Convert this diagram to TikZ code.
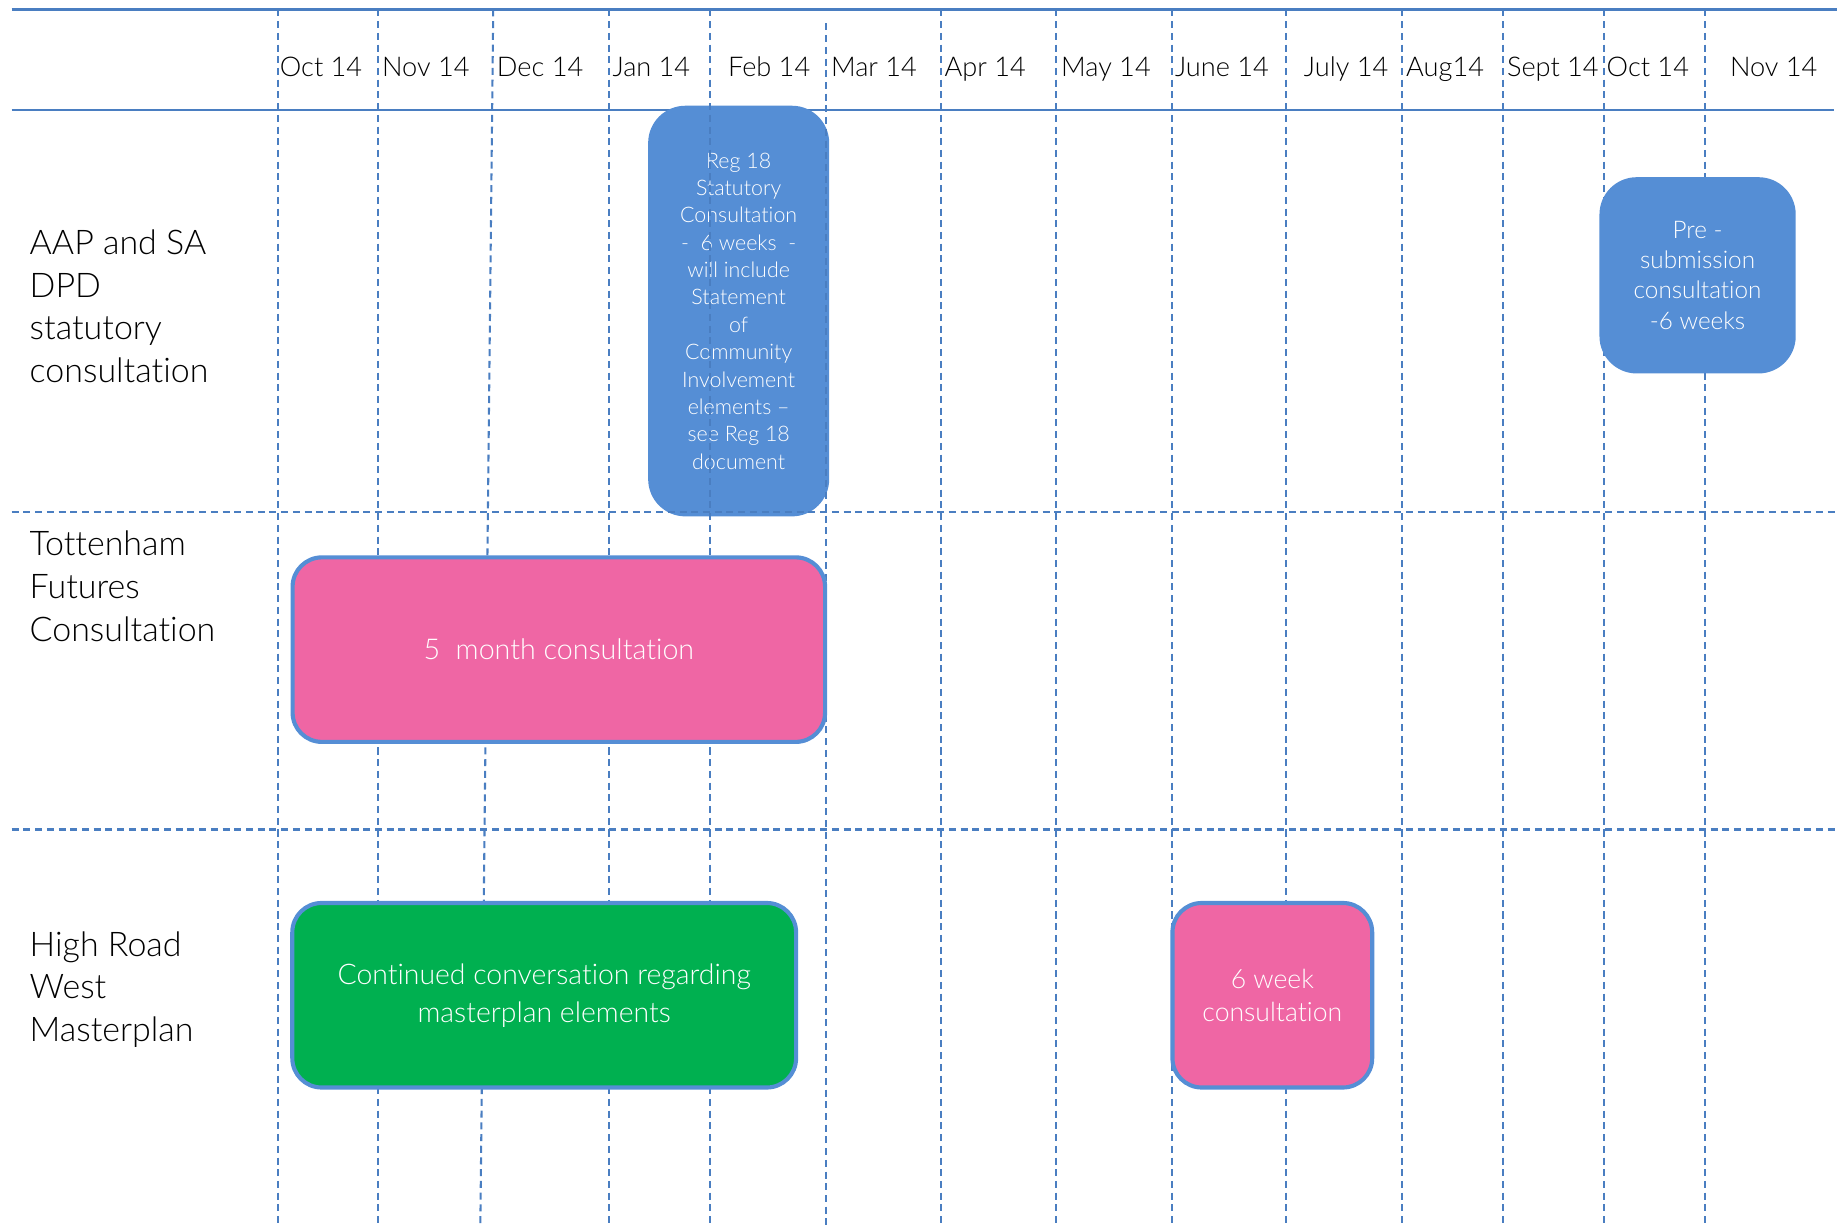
\documentclass[tikz,border=0pt]{standalone}
\usepackage{fontspec}
\IfFontExistsTF{Lato Light}{\setmainfont{Lato Light}[Ligatures=NoCommon]}{\setmainfont{Lato}[Ligatures=NoCommon]}
\definecolor{gridblue}{RGB}{74,126,193}
\definecolor{boxblue}{RGB}{85,142,213}
\definecolor{boxpink}{RGB}{239,102,164}
\definecolor{boxgreen}{RGB}{0,176,80}
\begin{document}
\begin{tikzpicture}[x=0.2mm,y=-0.2mm,
    monthline/.style={gridblue, line width=1pt, dash pattern=on 1.2mm off 0.8mm},
    headrule/.style={gridblue, line width=1.2pt},
    phase/.style={rounded corners=5mm, draw=boxblue, line width=2pt, text=white, align=center, inner sep=0pt},
    month/.style={anchor=base, font=\fontsize{13.2}{16}\selectfont},
    rowlabel/.style={anchor=west, align=left, inner sep=0pt, font=\fontsize{16.5}{20.7}\selectfont}]
    \useasboundingbox (0,0) rectangle (1568,1046);
    % header rules
    \draw[headrule] (10,8) -- (1568,8);
    \draw[headrule] (10,94) -- (1565,94);
    % reg 18 box sits under the grid
    \node[phase, fill=boxblue, rounded corners=6mm, minimum width=30.2mm, minimum height=69.4mm,
          font=\fontsize{10.4}{13.3}\selectfont] (reg) at (630.5,265.5)
          {Reg 18\\Statutory\\Consultation\\-~ 6 weeks ~-\\will include\\Statement\\of\\Community\\Involvement\\elements –\\see Reg 18\\document};
    % month grid
    \foreach \xt/\xb/\yt in {237/237/8, 323/323/8, 421/410/8, 520/520/8, 606/606/8, 705/705/20, 803/803/8,
                             901/901/8, 1000/1000/8, 1098/1098/8, 1197/1197/8, 1283/1283/8, 1369/1369/8, 1455/1455/8}
        \draw[monthline] (\xt,\yt) -- (\xb,1046);
    \draw[monthline] (10,437) -- (1568,437);
    \draw[monthline] (10,708) -- (1568,708);
    \foreach \x/\m [count=\i] in {274/Oct 14, 363.5/Nov 14, 461/Dec 14, 556/Jan 14, 656.5/Feb 14, 746/Mar 14, 841/Apr 14,
                                  944/May 14, 1043/June 14, 1149/July 14, 1233.5/Aug14, 1325.5/Sept 14, 1406.5/Oct 14, 1514/Nov 14}
        \node[month] (month\i) at (\x,65) {\m};
    % rows
    \node[rowlabel] (aap) at (25,261.5) {AAP and SA\\DPD\\statutory\\consultation};
    \node[rowlabel] (tott) at (25,500.5) {Tottenham\\Futures\\Consultation};
    \node[rowlabel] (hrw) at (25,844.5) {High Road\\West\\Masterplan};
    % consultation boxes
    \node[phase, fill=boxblue, rounded corners=6mm, minimum width=32.8mm, minimum height=32.8mm,
          font=\fontsize{11.8}{14.7}\selectfont] (presub) at (1449,235) {Pre -\\submission\\consultation\\-6 weeks};
    \node[phase, fill=boxpink, minimum width=90.9mm, minimum height=31.5mm,
          font=\fontsize{13.9}{16}\selectfont] (fivemonth) at (477,554.5) {5~ month consultation};
    \node[phase, fill=boxgreen, minimum width=86mm, minimum height=31.5mm,
          font=\fontsize{13.8}{18.5}\selectfont] (masterplan) at (464.5,849.5) {Continued conversation regarding\\masterplan elements};
    \node[phase, fill=boxpink, minimum width=34.1mm, minimum height=31.5mm,
          font=\fontsize{12.9}{16}\selectfont] (sixweek) at (1086,849.5) {6 week\\consultation};
\end{tikzpicture}
\end{document}
